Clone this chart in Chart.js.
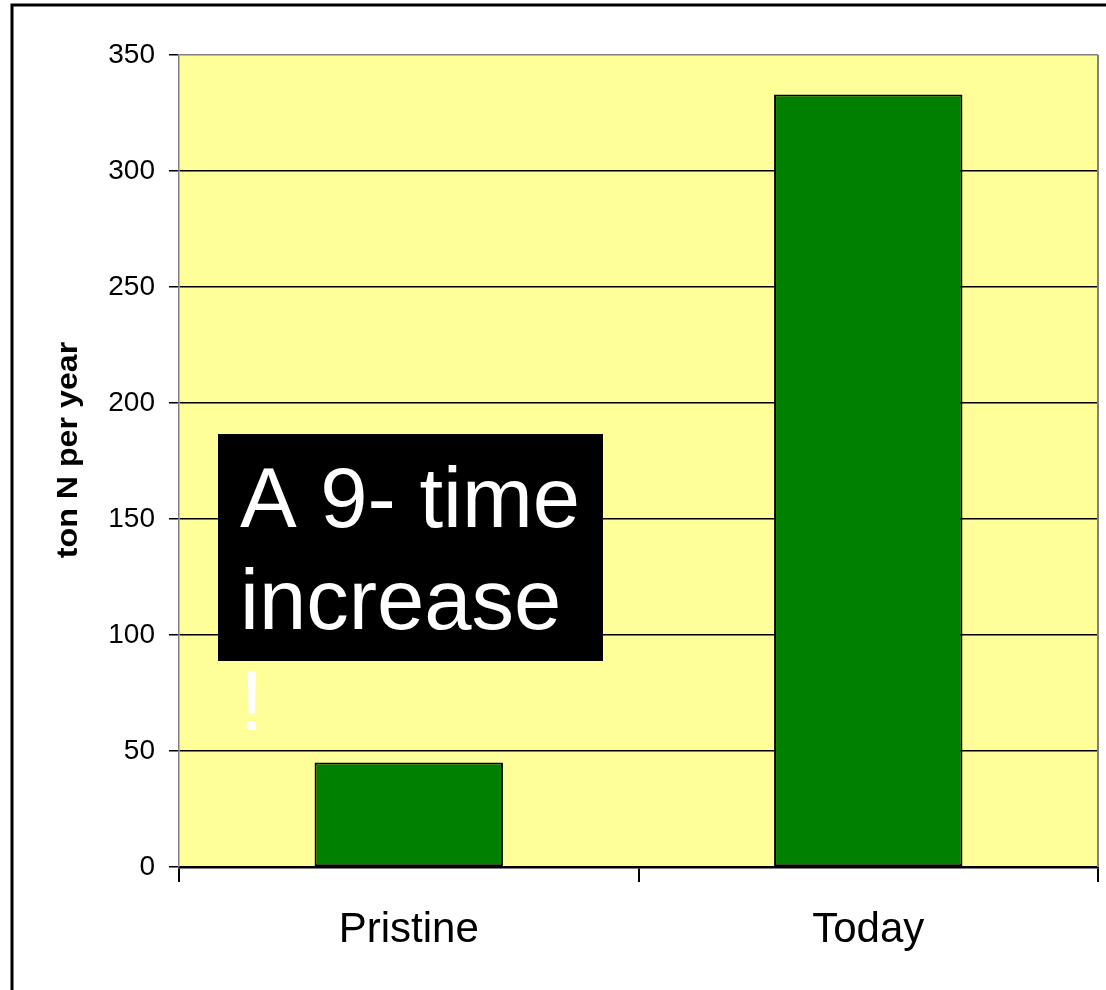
<!DOCTYPE html>
<html>
<head>
<meta charset="utf-8">
<script src="https://cdn.jsdelivr.net/npm/chart.js@4.4.1/dist/chart.umd.min.js"></script>
<style>
  html, body { margin: 0; padding: 0; background: #ffffff; }
  canvas { display: block; }
</style>
</head>
<body>
<canvas id="nChart" width="1106" height="990"></canvas>
<script>
// data
const categories = ["Pristine", "Today"];
const nLoad = [45, 333];
const yTicks = [0, 50, 100, 150, 200, 250, 300, 350];
const axisTitle = "ton N per year";
const noteLines = ["A 9- time", "increase", "!"];

const FONT = "'Liberation Sans', Arial, sans-serif";

// yellow plot area, outer frame, right border, axis title, text box
const decor = {
  id: "decor",
  beforeDraw(chart) {
    const ctx = chart.ctx;
    const a = chart.chartArea;
    ctx.save();
    ctx.fillStyle = "#FFFF99";
    ctx.fillRect(a.left, a.top, a.right - a.left, a.bottom - a.top);
    // frame around the whole picture (only left and top are visible)
    ctx.strokeStyle = "#000000";
    ctx.lineWidth = 3;
    ctx.beginPath();
    ctx.moveTo(12, chart.height + 10);
    ctx.lineTo(12, 5);
    ctx.lineTo(chart.width + 10, 5);
    ctx.stroke();
    ctx.restore();
  },
  afterDraw(chart) {
    const ctx = chart.ctx;
    const a = chart.chartArea;
    ctx.save();
    ctx.strokeStyle = "#808080";
    ctx.lineWidth = 2;
    ctx.beginPath();
    ctx.moveTo(a.right, a.top);
    ctx.lineTo(a.right, a.bottom);
    ctx.stroke();

    // y axis title, a bit wide like the original
    ctx.save();
    ctx.translate(69, (a.top + a.bottom) / 2 - 11);
    ctx.rotate(-Math.PI / 2);
    ctx.scale(1.11, 1);
    ctx.fillStyle = "#000000";
    ctx.font = "bold 29px " + FONT;
    ctx.textAlign = "center";
    ctx.textBaseline = "middle";
    ctx.fillText(axisTitle, 0, 0);
    ctx.restore();

    // annotation box
    const bx = a.left + 39, by = a.top + 379;
    ctx.fillStyle = "#000000";
    ctx.fillRect(bx, by, 385, 227);
    ctx.fillStyle = "#ffffff";
    ctx.font = "85px " + FONT;
    ctx.textAlign = "left";
    ctx.textBaseline = "alphabetic";
    noteLines.forEach((t, i) => {
      ctx.fillText(t, bx + 22, by + 93 + i * 101.5);
    });
    ctx.restore();
  }
};

new Chart(document.getElementById("nChart").getContext("2d"), {
  type: "bar",
  data: {
    labels: categories,
    datasets: [
      {
        label: axisTitle,
        data: nLoad,
        backgroundColor: "#008000",
        borderColor: "#000000",
        borderWidth: 2,
        borderSkipped: false,
        barPercentage: 0.41,
        categoryPercentage: 1.0,
      },
    ],
  },
  options: {
    responsive: false,
    animation: false,
    devicePixelRatio: 1,
    layout: { padding: { left: 0, top: 55, right: 8, bottom: 0 } },
    plugins: {
      legend: { display: false },
      tooltip: { enabled: false },
    },
    scales: {
      x: {
        offset: true,
        grid: {
          offset: true,
          drawOnChartArea: false,
          drawTicks: true,
          tickLength: 15,
          tickColor: "#000000",
          lineWidth: 2,
        },
        border: { display: true, color: "#000000", width: 2.5 },
        ticks: {
          color: "#000000",
          font: { family: FONT, size: 42 },
          padding: 23,
          maxRotation: 0,
        },
        afterFit(scale) {
          scale.height = 123;
        },
      },
      y: {
        min: 0,
        max: 350,
        afterBuildTicks(scale) {
          scale.ticks = yTicks.map((v) => ({ value: v }));
        },
        grid: {
          color: (c) => (c.tick && c.tick.value === 350 ? "#808080" : "#000000"),
          lineWidth: 1.5,
          drawTicks: true,
          tickLength: 10,
          tickColor: "#000000",
        },
        border: { display: true, color: "#808080", width: 1.5 },
        ticks: {
          color: "#000000",
          font: { family: FONT, size: 28 },
          padding: 14,
        },
        title: { display: false },
        afterFit(scale) {
          scale.width = 179;
        },
      },
    },
  },
  plugins: [decor],
});
</script>
</body>
</html>
